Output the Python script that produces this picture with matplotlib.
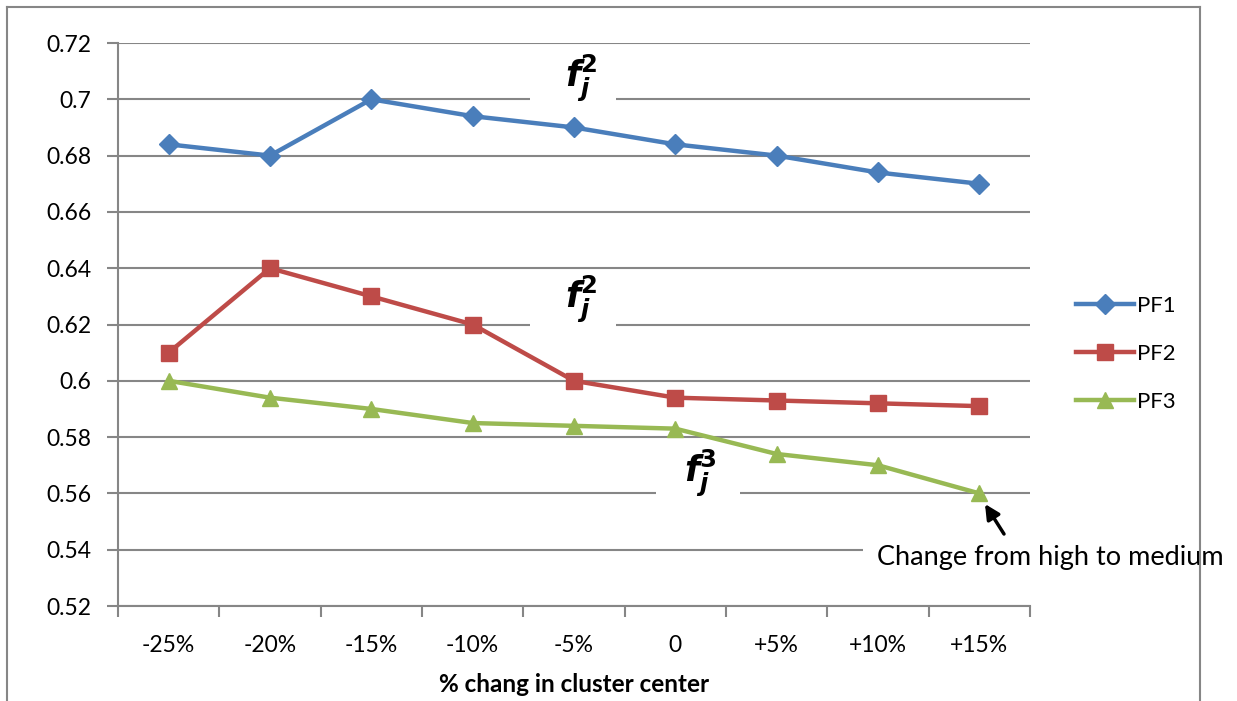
import matplotlib
matplotlib.use("Agg")
import matplotlib.pyplot as plt
from matplotlib.patches import Rectangle
from matplotlib.lines import Line2D

plt.rcParams['font.family'] = ['Lato', 'DejaVu Sans']

categories = ['-25%', '-20%', '-15%', '-10%', '-5%', '0', '+5%', '+10%', '+15%']
pf1 = [0.684, 0.680, 0.700, 0.694, 0.690, 0.684, 0.680, 0.674, 0.670]
pf2 = [0.610, 0.640, 0.630, 0.620, 0.600, 0.594, 0.593, 0.592, 0.591]
pf3 = [0.600, 0.594, 0.590, 0.585, 0.584, 0.583, 0.574, 0.570, 0.560]
yticks = [0.52, 0.54, 0.56, 0.58, 0.60, 0.62, 0.64, 0.66, 0.68, 0.70, 0.72]
ytick_labels = ['0.52', '0.54', '0.56', '0.58', '0.6', '0.62', '0.64', '0.66', '0.68', '0.7', '0.72']

W, H = 1237, 701
fig = plt.figure(figsize=(W / 100, H / 100), dpi=100)
ax = fig.add_axes([118 / W, 1 - 606 / H, (1030 - 118) / W, (606 - 43) / H])

x = list(range(len(categories)))
grid_c = '#868686'
ax.plot(x, pf1, color='#4a7ebb', lw=3.2, marker='D', ms=10, label='PF1', zorder=3)
ax.plot(x, pf2, color='#be4b48', lw=3.2, marker='s', ms=12, label='PF2', zorder=3)
ax.plot(x, pf3, color='#98b954', lw=3.2, marker='^', ms=12, label='PF3', zorder=3)

ax.set_xlim(-0.5, len(categories) - 0.5)
ax.set_ylim(0.52, 0.72)
ax.set_yticks(yticks)
ax.set_yticklabels(ytick_labels, fontsize=16.5)
ax.set_xticks(x)
ax.set_xticklabels(categories, fontsize=16.5)
ax.set_xticks([i - 0.5 for i in range(len(categories) + 1)], minor=True)
ax.tick_params(axis='x', which='major', length=0, pad=21)
ax.tick_params(axis='x', which='minor', length=8, color=grid_c, width=1.5)
ax.tick_params(axis='y', which='major', length=8, color=grid_c, width=1.5, pad=11)
ax.yaxis.grid(True, color=grid_c, lw=1.5)
ax.set_axisbelow(True)
for s in ['top', 'right']:
    ax.spines[s].set_visible(False)
for s in ['left', 'bottom']:
    ax.spines[s].set_color(grid_c)
    ax.spines[s].set_linewidth(1.5)
ax.set_xlabel('% chang in cluster center', fontsize=17.5, fontweight='bold', labelpad=12)

leg = fig.legend(loc='center left', bbox_to_anchor=(1056 / W, 1 - 354 / H), frameon=False,
                 fontsize=16, handlelength=2.6, labelspacing=1.25, handletextpad=0.15)

# white patches under the formula labels (they hide the gridlines)
for (x0, x1, yc) in [(3.57, 4.41, 0.700), (3.57, 4.41, 0.620), (4.81, 5.64, 0.560)]:
    ax.add_patch(Rectangle((x0, yc - 0.003), x1 - x0, 0.006, facecolor='white',
                           edgecolor='none', zorder=1))

lab = r'$\mathbfit{f}_{\mathbfit{j}}^{\mathbf{%s}}$'
ax.text(4.07, 0.7075, lab % '2', fontsize=25, ha='center', va='center', zorder=2)
ax.text(4.07, 0.6290, lab % '2', fontsize=25, ha='center', va='center', zorder=2)
ax.text(5.25, 0.5670, lab % '3', fontsize=25, ha='center', va='center', zorder=2)

# figure border
fig.add_artist(Line2D([7 / W, 7 / W], [0, 1 - 7 / H], color=grid_c, lw=1.5))
fig.add_artist(Line2D([7 / W, 1200 / W], [1 - 7 / H, 1 - 7 / H], color=grid_c, lw=1.5))
fig.add_artist(Line2D([1200 / W, 1200 / W], [0, 1 - 7 / H], color=grid_c, lw=1.5, zorder=1))

ax.text(1050 / W, 1 - 557 / H, 'Change from high to medium', transform=fig.transFigure,
        fontsize=19.5, ha='center', va='center', zorder=5,
        bbox=dict(facecolor='white', edgecolor='none', boxstyle='square,pad=0.5'))
ax.annotate('', xy=(985 / W, 1 - 504 / H), xycoords='figure fraction',
            xytext=(1004 / W, 1 - 534 / H), textcoords='figure fraction',
            annotation_clip=False,
            arrowprops=dict(arrowstyle='-|>', color='black', lw=2.5, mutation_scale=22,
                            shrinkA=0, shrinkB=0), zorder=6)

fig.savefig('out.png', dpi=100)
